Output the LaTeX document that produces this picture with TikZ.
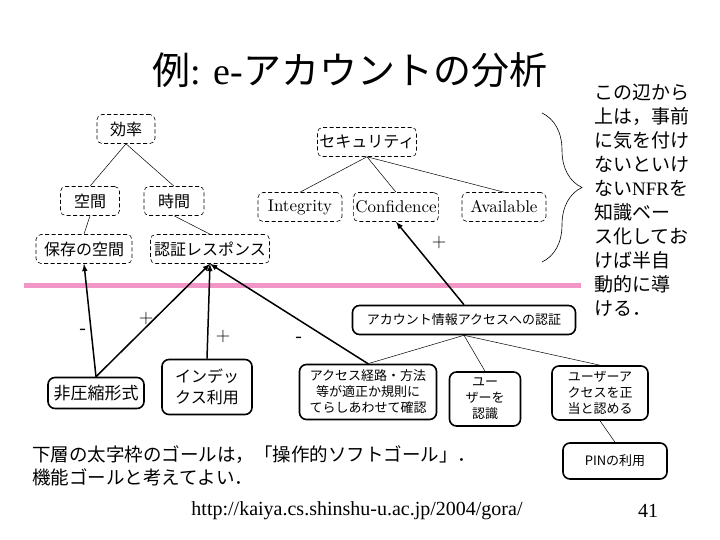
\documentclass[tikz,border=0pt]{standalone}
\usepackage{fontspec}
\newfontfamily\jp{Noto Sans CJK JP}
\newfontfamily\tms{Liberation Serif}
\newfontfamily\cmr{lmroman10-regular}[Extension = .otf]
\usetikzlibrary{decorations.pathreplacing}
\definecolor{divpink}{RGB}{242,150,200}

\begin{document}
\begin{tikzpicture}[x = 1pt, y = -1pt,
  nfrbox/.style = {draw, dash pattern = on 4pt off 2.5pt, rounded corners = 5pt, line width = 0.6pt, minimum height = 29pt, inner sep = 2pt, font = \jp\fontsize{16}{19}\selectfont},
  opbox/.style = {draw, line width = 1.6pt, rounded corners = 7pt, inner sep = 2pt, align = center, font = \jp\fontsize{13}{16}\selectfont},
  tree/.style = {line width = 0.5pt},
  contrib/.style = {line width = 1.5pt, -latex},
  sign/.style = {inner sep = 0pt, font = \fontsize{20}{20}\selectfont}]
\useasboundingbox (0, 0) rectangle (720, 540);
\node (title) at (350, 70) {\jp\fontsize{38}{40}\selectfont 例{\tms : e-}アカウントの分析};
\node[nfrbox, minimum width = 58pt] (eff) at (126, 129) {効率};
\node[nfrbox, minimum width = 98pt] (sec) at (367, 142) {セキュリティ};
\node[nfrbox, minimum width = 59pt] (space) at (90, 201) {空間};
\node[nfrbox, minimum width = 60pt] (time) at (174, 201) {時間};
\node[nfrbox, minimum width = 84pt, font = \cmr\fontsize{17}{19}\selectfont] (integ) at (300, 207) {Integrity};
\node[nfrbox, minimum width = 84pt, font = \cmr\fontsize{17}{19}\selectfont] (conf) at (396, 207) {Confidence};
\node[nfrbox, minimum width = 84pt, font = \cmr\fontsize{17}{19}\selectfont] (avail) at (504, 207) {Available};
\node[nfrbox, minimum width = 96pt] (store) at (84, 249) {保存の空間};
\node[nfrbox, minimum width = 119pt] (resp) at (210, 249) {認証レスポンス};
\draw[line width = 5pt, divpink] (24, 285) -- (581, 285);
\node[opbox, minimum width = 223pt, minimum height = 29pt] (auth) at (464, 320) {アカウント情報アクセスへの認証};
\node[opbox, minimum width = 96pt, minimum height = 31pt, font = \jp\fontsize{17}{20}\selectfont] (nocomp) at (96, 393) {非圧縮形式};
\node[opbox, minimum width = 90pt, minimum height = 55pt, font = \jp\fontsize{16}{21}\selectfont] (index) at (207, 387) {インデッ\\クス利用};
\node[opbox, minimum width = 137pt, minimum height = 55pt] (path) at (368, 392) {アクセス経路・方法\\等が適正か規則に\\てらしあわせて確認};
\node[opbox, minimum width = 71pt, minimum height = 54pt] (ident) at (485, 399) {ユー\\ザーを\\認識};
\node[opbox, minimum width = 96pt, minimum height = 54pt] (legit) at (600, 393) {ユーザーア\\クセスを正\\当と認める};
\node[opbox, minimum width = 104pt, minimum height = 36pt] (pin) at (615, 461) {PINの利用};
\draw[tree] (eff.south) -- (space.north);
\draw[tree] (eff.south) -- (time.north);
\draw[tree] (space.south) -- (store.north);
\draw[tree] (time.south) -- (resp.north);
\draw[tree] (sec.south) -- (integ.north);
\draw[tree] (sec.south) -- (conf.north);
\draw[tree] (sec.south) -- (avail.north);
\draw[tree] (auth.south) -- (path.north);
\draw[tree] (auth.south) -- (ident.north);
\draw[tree] (auth.south) -- (legit.north);
\draw[tree] (legit.south) -- (pin.north);
\draw[contrib] (nocomp.north) -- (store.south);
\draw[contrib] (nocomp.north) -- (resp.south);
\draw[contrib] (index.north) -- (resp.south);
\draw[contrib] (path.north) -- (resp.south);
\draw[contrib] (auth.north) -- (conf.south);
\node[sign] (m1) at (83, 332) {\jp -};
\node[sign] (p1) at (146, 319) {+};
\node[sign] (p2) at (223, 337) {+};
\node[sign] (m2) at (299, 340) {\jp -};
\node[sign] (p3) at (439, 243) {+};
\draw[decorate, decoration = {brace, amplitude = 40pt}, line width = 0.6pt] (542, 113) -- (542, 262);
\node[anchor = north west, align = left, inner sep = 0pt, font = \jp\fontsize{19}{24}\selectfont] (note) at (594, 84) {この辺から\\上は，事前\\に気を付け\\ないといけ\\ない{\tms NFR}を\\知識ベー\\ス化してお\\けば半自\\動的に導\\ける．};
\node[anchor = west, align = left, inner sep = 0pt, font = \jp\fontsize{18.5}{23}\selectfont] (remark) at (32, 466) {下層の太字枠のゴールは，「操作的ソフトゴール」．\\機能ゴールと考えてよい．};
\node[font = \tms\fontsize{20}{20}\selectfont] (url) at (357, 511) {http://kaiya.cs.shinshu-u.ac.jp/2004/gora/};
\node[font = \tms\fontsize{20}{20}\selectfont] (page) at (648, 511) {41};
\end{tikzpicture}
\end{document}
